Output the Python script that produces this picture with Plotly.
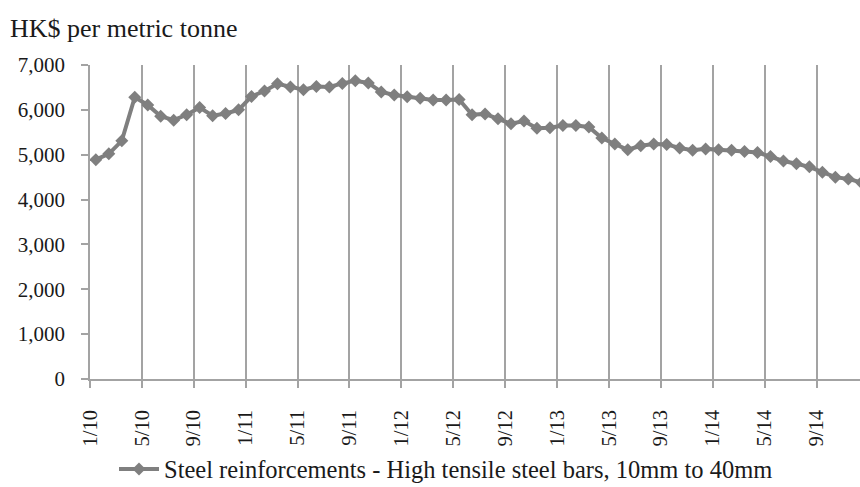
import plotly.graph_objects as go

# Monthly prices, Jan 2010 .. Dec 2014 (HK$ per metric tonne)
months = [f"{m}/{y}" for y in range(10, 15) for m in range(1, 13)]
prices = [
    4890, 5020, 5310, 6280, 6110, 5860, 5770, 5890, 6050, 5870, 5920, 6000,
    6300, 6420, 6580, 6510, 6450, 6520, 6510, 6590, 6650, 6600, 6400, 6330,
    6290, 6260, 6220, 6220, 6230, 5890, 5910, 5800, 5690, 5750, 5590, 5600,
    5650, 5650, 5620, 5370, 5240, 5110, 5200, 5240, 5230, 5150, 5100, 5130,
    5110, 5100, 5070, 5050, 4960, 4860, 4800, 4730, 4610, 4500, 4460, 4380,
]
tick_labels = ["1/10", "5/10", "9/10", "1/11", "5/11", "9/11", "1/12", "5/12",
               "9/12", "1/13", "5/13", "9/13", "1/14", "5/14", "9/14"]
y_ticks = [0, 1000, 2000, 3000, 4000, 5000, 6000, 7000]
series_name = "Steel reinforcements - High tensile steel bars, 10mm to 40mm"

# category positions: points sit inside each month slot
x_pos = [i + 0.45 for i in range(len(prices))]
tick_pos = [months.index(t) for t in tick_labels]

FONT = "Liberation Serif"
GREY = "#7f7f7f"
GRID = "#a3a3a3"

W, H = 860, 487

fig = go.Figure()
fig.add_trace(go.Scatter(
    x=x_pos, y=prices, mode="lines+markers", name=series_name,
    line=dict(color=GREY, width=4),
    marker=dict(symbol="diamond", size=10, color=GREY),
    cliponaxis=True,
))

fig.update_layout(
    width=W, height=H,
    margin=dict(l=90, r=0, t=65, b=108, autoexpand=False),
    paper_bgcolor="white", plot_bgcolor="white",
    font=dict(family=FONT, size=20, color="#1a1a1a"),
    showlegend=True,
    legend=dict(orientation="h", xref="container", yref="container",
                x=446/W, y=1-469/H, xanchor="center", yanchor="middle",
                font=dict(size=24.5), itemwidth=40),
    title=dict(text="HK$ per metric tonne", xref="container", yref="container",
               x=10/W, y=1-28/H, xanchor="left", yanchor="middle",
               font=dict(family=FONT, size=26, color="#1a1a1a")),
)
fig.update_xaxes(
    range=[0, 59.35], tickmode="array", tickvals=tick_pos, ticktext=tick_labels,
    tickangle=-90, showgrid=True, gridcolor=GRID, gridwidth=1.5,
    showline=True, linecolor=GRID, linewidth=1.5,
    ticks="outside", ticklen=7, tickcolor=GRID, tickwidth=1.5,
    zeroline=False, tickfont=dict(size=20.5), automargin=False,
    ticklabelstandoff=14,
)
fig.update_yaxes(
    range=[0, 7000], tickmode="array", tickvals=y_ticks,
    ticktext=[f"{v:,}" for v in y_ticks],
    showgrid=False, showline=True, linecolor=GRID, linewidth=1.5,
    ticks="outside", ticklen=7, tickcolor=GRID, tickwidth=1.5,
    zeroline=False, tickfont=dict(size=21), ticklabelstandoff=12,
    automargin=False,
)

fig.write_html(
    "out.html",
    config={"displayModeBar": False},
    post_script="document.body.style.margin='0';"
                "document.body.style.overflow='hidden';",
)
